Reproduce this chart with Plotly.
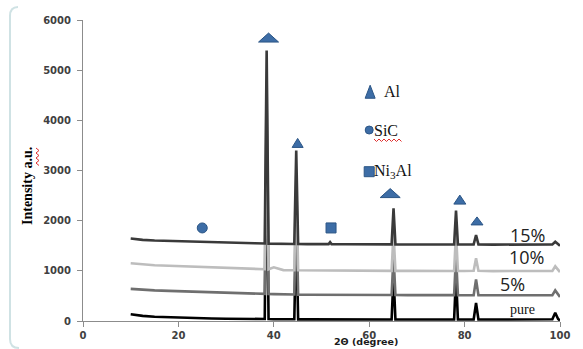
import plotly.graph_objects as go

# ---------------- data ----------------
two_theta = [10, 11, 12.5, 15, 18, 21, 24, 27, 30, 33, 36, 38.1, 38.5, 38.9, 40, 42,
             44.3, 44.7, 45.1, 47, 50, 51.5, 51.8, 52.1, 55, 58, 61, 64.7, 65.1, 65.5,
             68, 71, 74, 77.8, 78.2, 78.6, 80, 81.9, 82.4, 82.9, 86, 89, 92, 95,
             98.4, 99.0, 99.6, 100]

pure = [135, 118, 102, 86, 73, 63, 56, 49, 45, 42, 40, 40, 3900, 38, 36, 34,
        34, 1900, 33, 32, 32, 32, 33, 32, 31, 31, 30, 31, 900, 30,
        30, 30, 30, 30, 900, 30, 30, 32, 360, 32, 30, 30, 30, 30,
        35, 165, 40, 10]

pct5 = [640, 632, 622, 610, 600, 592, 585, 575, 565, 555, 545, 540, 4300, 538, 535, 530,
        528, 2400, 526, 524, 522, 522, 528, 522, 520, 520, 518, 518, 1300, 518,
        516, 516, 515, 515, 1300, 515, 514, 516, 830, 516, 512, 512, 510, 510,
        515, 610, 520, 480]

pct10 = [1150, 1140, 1128, 1112, 1100, 1090, 1083, 1070, 1058, 1048, 1036, 1032, 4800, 1030, 1070, 1015,
         1012, 2900, 1010, 1008, 1005, 1005, 1012, 1005, 1003, 1002, 1000, 1000, 1750, 1000,
         1000, 998, 998, 998, 1750, 998, 996, 1000, 1250, 1000, 995, 995, 992, 992,
         1000, 1090, 1005, 975]

pct15 = [1645, 1630, 1618, 1605, 1595, 1588, 1580, 1572, 1565, 1558, 1550, 1545, 5390, 1542, 1540, 1538,
         1536, 3400, 1535, 1533, 1532, 1532, 1570, 1532, 1530, 1530, 1528, 1528, 2245, 1528,
         1526, 1526, 1525, 1525, 2200, 1525, 1524, 1528, 1715, 1528, 1522, 1522, 1520, 1520,
         1528, 1580, 1530, 1500]

series_names = ["pure", "5%", "10%", "15%"]
series_colors = ["#000000", "#6f6f6f", "#bdbdbd", "#3a3a3a"]

# phase markers (Al triangles, SiC circle, Ni3Al square)
al_x = [38.9, 45.0, 64.4, 79.0, 82.6]
al_y = [5650, 3550, 2550, 2420, 1995]
al_w_px = [20, 11, 20, 12, 12]
al_h_px = [9, 9, 9, 9, 8]
sic_x = [25.0]
sic_y = [1855]
ni3al_x = [52.0]
ni3al_y = [1855]

# legend-like key
key_x = [60.2, 60.0, 60.0]
key_y = [4570, 3807, 2976]
key_labels = ["Al", "SiC", "Ni<sub>3</sub>Al"]

curve_labels = ["15%", "10%", "5%", "pure"]
curve_label_x = [93.1, 92.9, 90.1, 92.2]
curve_label_y = [1714, 1282, 737, 239]

x_ticks = [0, 20, 40, 60, 80, 100]
y_ticks = [0, 1000, 2000, 3000, 4000, 5000, 6000]

# ---------------- layout geometry ----------------
W, H = 583, 349
ML, MR, MT, MB = 83, 23, 20, 28
PW, PH = W - ML - MR, H - MT - MB
XPX = PW / 100.0      # pixels per degree
YPX = PH / 6000.0     # pixels per count
BLUE = "#3d6da6"
BLUE_EDGE = "#2b5585"


def px_to_paper(px, py):
    return (px - ML) / PW, (H - MB - py) / PH


fig = go.Figure()

for name, ys, col in zip(series_names, [pure, pct5, pct10, pct15], series_colors):
    fig.add_trace(go.Scatter(x=two_theta, y=ys, mode="lines", name=name,
                             line=dict(color=col, width=2.6), hoverinfo="skip"))

# Al triangles as filled polygons (to allow flattened shapes)
for cx, cy, w, h in zip(al_x, al_y, al_w_px, al_h_px):
    dx = w / 2 / XPX
    dy = h / 2 / YPX
    fig.add_trace(go.Scatter(x=[cx - dx, cx + dx, cx, cx - dx],
                             y=[cy - dy, cy - dy, cy + dy, cy - dy],
                             mode="lines", fill="toself", fillcolor=BLUE,
                             line=dict(color=BLUE_EDGE, width=1), hoverinfo="skip"))

fig.add_trace(go.Scatter(x=sic_x, y=sic_y, mode="markers", hoverinfo="skip",
                         marker=dict(symbol="circle", size=10, color=BLUE,
                                     line=dict(color=BLUE_EDGE, width=1))))
fig.add_trace(go.Scatter(x=ni3al_x, y=ni3al_y, mode="markers", hoverinfo="skip",
                         marker=dict(symbol="square", size=10, color=BLUE,
                                     line=dict(color=BLUE_EDGE, width=1))))

# key symbols
kdx = 5 / XPX
kdy = 6.5 / YPX
fig.add_trace(go.Scatter(x=[key_x[0] - kdx, key_x[0] + kdx, key_x[0], key_x[0] - kdx],
                         y=[key_y[0] - kdy, key_y[0] - kdy, key_y[0] + kdy, key_y[0] - kdy],
                         mode="lines", fill="toself", fillcolor=BLUE,
                         line=dict(color=BLUE_EDGE, width=1), hoverinfo="skip"))
fig.add_trace(go.Scatter(x=[key_x[1]], y=[key_y[1]], mode="markers", hoverinfo="skip",
                         marker=dict(symbol="circle", size=8, color=BLUE,
                                     line=dict(color=BLUE_EDGE, width=1))))
fig.add_trace(go.Scatter(x=[key_x[2]], y=[key_y[2]], mode="markers", hoverinfo="skip",
                         marker=dict(symbol="square", size=10, color=BLUE,
                                     line=dict(color=BLUE_EDGE, width=1))))

annotations = []
for lab, kx, ky in zip(key_labels, key_x, key_y):
    annotations.append(dict(x=kx, y=ky, xref="x", yref="y", text=lab, showarrow=False,
                            xanchor="left", xshift=12 if lab == "Al" else 3, yanchor="middle",
                            font=dict(family="Liberation Serif", size=16, color="#111111")))

for lab, lx, ly in zip(curve_labels, curve_label_x, curve_label_y):
    if lab == "pure":
        f = dict(family="Liberation Serif", size=14, color="#111111")
    else:
        f = dict(family="Open Sans", size=18, color="#222222")
    annotations.append(dict(x=lx, y=ly, xref="x", yref="y", text=lab, showarrow=False,
                            xanchor="center", yanchor="middle", font=f))

ax, ay = px_to_paper(27, 186)
annotations.append(dict(x=ax, y=ay, xref="paper", yref="paper", text="Intensity a.u.",
                        textangle=-90, showarrow=False, xanchor="center", yanchor="middle",
                        font=dict(family="Liberation Serif", size=14, color="#000000", weight="bold")))
bx, by = px_to_paper(366, 342)
annotations.append(dict(x=bx, y=by, xref="paper", yref="paper", text="2Θ (degree)",
                        showarrow=False, xanchor="center", yanchor="middle",
                        font=dict(family="DejaVu Sans", size=9.5, color="#1a1a1a", weight="bold")))

# frame on the left (rounded border) and spell-check squiggles
p1 = px_to_paper(18, 7); c1 = px_to_paper(10, 7); p2 = px_to_paper(10, 16)
p3 = px_to_paper(10, 339); c2 = px_to_paper(10, 348); p4 = px_to_paper(19, 348)
frame_path = (f"M {p1[0]},{p1[1]} Q {c1[0]},{c1[1]} {p2[0]},{p2[1]} "
              f"L {p3[0]},{p3[1]} Q {c2[0]},{c2[1]} {p4[0]},{p4[1]}")

shapes = [dict(type="path", xref="paper", yref="paper", path=frame_path,
               line=dict(color="#cfe2e4", width=2))]

# vertical squiggle under "a.u."
sq = []
for i in range(8):
    yy = 148 + 2.5 * i
    xx = 36 if i % 2 == 0 else 39
    sq.append(px_to_paper(xx, yy))
sq_path = "M " + " L ".join(f"{a},{b}" for a, b in sq)
shapes.append(dict(type="path", xref="paper", yref="paper", path=sq_path,
                   line=dict(color="#e03030", width=1)))
# horizontal squiggle under "SiC"
sq2 = []
for i in range(12):
    xx = 374 + 2.5 * i
    yy = 139 if i % 2 == 0 else 141.5
    sq2.append(px_to_paper(xx, yy))
sq2_path = "M " + " L ".join(f"{a},{b}" for a, b in sq2)
shapes.append(dict(type="path", xref="paper", yref="paper", path=sq2_path,
                   line=dict(color="#e03030", width=1)))

tickfont = dict(family="DejaVu Sans", size=10, color="#404040", weight="bold")

fig.update_layout(
    width=W, height=H,
    margin=dict(l=ML, r=MR, t=MT, b=MB),
    paper_bgcolor="white", plot_bgcolor="white",
    showlegend=False,
    hovermode=False,
    annotations=annotations,
    shapes=shapes,
    xaxis=dict(range=[0, 100], tickvals=x_ticks, ticktext=[str(v) for v in x_ticks],
               showgrid=False, zeroline=False, showline=True, linecolor="#8c8c8c",
               linewidth=1, ticks="outside", ticklen=5, tickcolor="#8c8c8c",
               tickfont=tickfont, automargin=False),
    yaxis=dict(range=[0, 6000], tickvals=y_ticks, ticktext=[str(v) for v in y_ticks],
               showgrid=False, zeroline=False, showline=True, linecolor="#8c8c8c",
               linewidth=1, ticks="outside", ticklen=5, tickcolor="#8c8c8c",
               tickfont=tickfont, automargin=False, ticklabelstandoff=4),
)

fig.write_html("out.html", config={"displayModeBar": False, "staticPlot": True},
               post_script="document.body.style.margin='0';document.body.style.overflow='hidden';")
